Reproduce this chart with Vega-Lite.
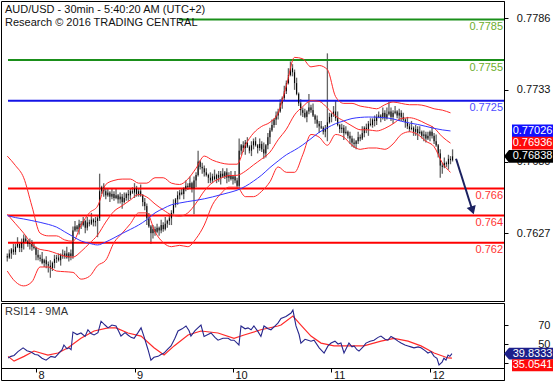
{
"$schema":"https://vega.github.io/schema/vega-lite/v6.json",
"padding":0,
"autosize":{"type":"pad"},
"background":"white",
"spacing":0,
"config":{"view":{"stroke":"#000000","strokeWidth":1},"font":"Liberation Sans","axis":{"labelFont":"Liberation Sans","labelFontSize":11,"labelColor":"#111111","domainColor":"#000000","tickColor":"#000000","grid":false}},
"datasets":{
"bars":[
{"i":-14,"o":0.761,"h":0.7612,"l":0.7606,"c":0.7609},
{"i":-13,"o":0.7609,"h":0.7615,"l":0.7608,"c":0.7612},
{"i":-12,"o":0.7612,"h":0.7616,"l":0.7608,"c":0.7615},
{"i":-11,"o":0.7615,"h":0.7619,"l":0.7611,"c":0.7613},
{"i":-10,"o":0.7613,"h":0.7619,"l":0.7611,"c":0.7617},
{"i":-9,"o":0.7617,"h":0.7624,"l":0.7616,"c":0.7619},
{"i":-8,"o":0.7619,"h":0.762,"l":0.7613,"c":0.7616},
{"i":-7,"o":0.7616,"h":0.7623,"l":0.7613,"c":0.762},
{"i":-6,"o":0.762,"h":0.7626,"l":0.7615,"c":0.7623},
{"i":-5,"o":0.7623,"h":0.7625,"l":0.762,"c":0.7621},
{"i":-4,"o":0.7621,"h":0.7622,"l":0.7617,"c":0.7619},
{"i":-3,"o":0.7619,"h":0.7623,"l":0.7615,"c":0.762},
{"i":-2,"o":0.762,"h":0.7622,"l":0.7614,"c":0.7617},
{"i":-1,"o":0.7617,"h":0.762,"l":0.7615,"c":0.7616},
{"i":0,"o":0.7616,"h":0.7617,"l":0.7607,"c":0.7611},
{"i":1,"o":0.7611,"h":0.7615,"l":0.7607,"c":0.7609},
{"i":2,"o":0.7609,"h":0.7611,"l":0.7606,"c":0.7608},
{"i":3,"o":0.7608,"h":0.7613,"l":0.7604,"c":0.7605},
{"i":4,"o":0.7605,"h":0.7608,"l":0.7602,"c":0.7607},
{"i":5,"o":0.7607,"h":0.761,"l":0.7601,"c":0.7604},
{"i":6,"o":0.7604,"h":0.7606,"l":0.7598,"c":0.7603},
{"i":7,"o":0.7603,"h":0.7607,"l":0.7594,"c":0.7601},
{"i":8,"o":0.7601,"h":0.7606,"l":0.7599,"c":0.7605},
{"i":9,"o":0.7605,"h":0.7611,"l":0.7601,"c":0.7608},
{"i":10,"o":0.7608,"h":0.7611,"l":0.7605,"c":0.7609},
{"i":11,"o":0.7609,"h":0.7612,"l":0.7606,"c":0.7607},
{"i":12,"o":0.7607,"h":0.7612,"l":0.7603,"c":0.7611},
{"i":13,"o":0.7611,"h":0.7615,"l":0.7608,"c":0.761},
{"i":14,"o":0.761,"h":0.7614,"l":0.7608,"c":0.7612},
{"i":15,"o":0.7612,"h":0.7617,"l":0.7608,"c":0.7609},
{"i":16,"o":0.7609,"h":0.7613,"l":0.7606,"c":0.7612},
{"i":17,"o":0.7612,"h":0.7615,"l":0.7607,"c":0.761},
{"i":18,"o":0.761,"h":0.7632,"l":0.7608,"c":0.7629},
{"i":19,"o":0.7629,"h":0.7636,"l":0.7628,"c":0.7632},
{"i":20,"o":0.7632,"h":0.7633,"l":0.7628,"c":0.763},
{"i":21,"o":0.763,"h":0.7637,"l":0.7626,"c":0.7634},
{"i":22,"o":0.7634,"h":0.7636,"l":0.763,"c":0.7633},
{"i":23,"o":0.7633,"h":0.7639,"l":0.7632,"c":0.7636},
{"i":24,"o":0.7636,"h":0.7637,"l":0.7627,"c":0.7631},
{"i":25,"o":0.7631,"h":0.7639,"l":0.7629,"c":0.7635},
{"i":26,"o":0.7635,"h":0.7637,"l":0.7632,"c":0.7634},
{"i":27,"o":0.7634,"h":0.7642,"l":0.7633,"c":0.7637},
{"i":28,"o":0.7637,"h":0.7638,"l":0.7632,"c":0.7635},
{"i":29,"o":0.7635,"h":0.7639,"l":0.7632,"c":0.7636},
{"i":30,"o":0.7636,"h":0.764,"l":0.7624,"c":0.7638},
{"i":31,"o":0.7638,"h":0.7671,"l":0.7636,"c":0.7658},
{"i":32,"o":0.7658,"h":0.7662,"l":0.7656,"c":0.7661},
{"i":33,"o":0.7661,"h":0.7664,"l":0.7654,"c":0.7658},
{"i":34,"o":0.7658,"h":0.766,"l":0.7652,"c":0.7655},
{"i":35,"o":0.7655,"h":0.766,"l":0.7654,"c":0.7657},
{"i":36,"o":0.7657,"h":0.7658,"l":0.765,"c":0.7654},
{"i":37,"o":0.7654,"h":0.766,"l":0.7652,"c":0.7656},
{"i":38,"o":0.7656,"h":0.7658,"l":0.7651,"c":0.7653},
{"i":39,"o":0.7653,"h":0.766,"l":0.7652,"c":0.7655},
{"i":40,"o":0.7655,"h":0.7656,"l":0.7649,"c":0.7652},
{"i":41,"o":0.7652,"h":0.7657,"l":0.7649,"c":0.7654},
{"i":42,"o":0.7654,"h":0.7656,"l":0.7645,"c":0.765},
{"i":43,"o":0.765,"h":0.7657,"l":0.7649,"c":0.7653},
{"i":44,"o":0.7653,"h":0.7657,"l":0.7651,"c":0.7656},
{"i":45,"o":0.7656,"h":0.7659,"l":0.7651,"c":0.7655},
{"i":46,"o":0.7655,"h":0.766,"l":0.7652,"c":0.7658},
{"i":47,"o":0.7658,"h":0.7661,"l":0.7656,"c":0.7657},
{"i":48,"o":0.7657,"h":0.7664,"l":0.7653,"c":0.766},
{"i":49,"o":0.766,"h":0.7662,"l":0.7654,"c":0.7656},
{"i":50,"o":0.7656,"h":0.766,"l":0.7654,"c":0.7658},
{"i":51,"o":0.7658,"h":0.7663,"l":0.7654,"c":0.7655},
{"i":52,"o":0.7655,"h":0.7656,"l":0.7647,"c":0.765},
{"i":53,"o":0.765,"h":0.7653,"l":0.7644,"c":0.7647},
{"i":54,"o":0.7647,"h":0.7649,"l":0.7633,"c":0.7638},
{"i":55,"o":0.7638,"h":0.7642,"l":0.7631,"c":0.7632},
{"i":56,"o":0.7632,"h":0.7633,"l":0.7619,"c":0.7627},
{"i":57,"o":0.7627,"h":0.7633,"l":0.7623,"c":0.763},
{"i":58,"o":0.763,"h":0.7632,"l":0.7625,"c":0.7628},
{"i":59,"o":0.7628,"h":0.7634,"l":0.7627,"c":0.7631},
{"i":60,"o":0.7631,"h":0.7632,"l":0.7625,"c":0.7629},
{"i":61,"o":0.7629,"h":0.7637,"l":0.7627,"c":0.7633},
{"i":62,"o":0.7633,"h":0.7635,"l":0.7628,"c":0.763},
{"i":63,"o":0.763,"h":0.7639,"l":0.7629,"c":0.7634},
{"i":64,"o":0.7634,"h":0.7637,"l":0.7631,"c":0.7636},
{"i":65,"o":0.7636,"h":0.7641,"l":0.7633,"c":0.7638},
{"i":66,"o":0.7638,"h":0.7644,"l":0.7633,"c":0.7642},
{"i":67,"o":0.7642,"h":0.7652,"l":0.7641,"c":0.7648},
{"i":68,"o":0.7648,"h":0.7653,"l":0.7646,"c":0.7652},
{"i":69,"o":0.7652,"h":0.7658,"l":0.7648,"c":0.7655},
{"i":70,"o":0.7655,"h":0.7659,"l":0.7652,"c":0.7657},
{"i":71,"o":0.7657,"h":0.766,"l":0.7655,"c":0.7656},
{"i":72,"o":0.7656,"h":0.7661,"l":0.7652,"c":0.766},
{"i":73,"o":0.766,"h":0.7666,"l":0.7658,"c":0.7662},
{"i":74,"o":0.7662,"h":0.7664,"l":0.7659,"c":0.7661},
{"i":75,"o":0.7661,"h":0.7669,"l":0.766,"c":0.7664},
{"i":76,"o":0.7664,"h":0.7665,"l":0.7657,"c":0.766},
{"i":77,"o":0.766,"h":0.7669,"l":0.7641,"c":0.7666},
{"i":78,"o":0.7666,"h":0.7672,"l":0.7661,"c":0.767},
{"i":79,"o":0.767,"h":0.7688,"l":0.7669,"c":0.768},
{"i":80,"o":0.768,"h":0.7681,"l":0.7674,"c":0.7676},
{"i":81,"o":0.7676,"h":0.7679,"l":0.7671,"c":0.7675},
{"i":82,"o":0.7675,"h":0.7677,"l":0.7669,"c":0.7672},
{"i":83,"o":0.7672,"h":0.7675,"l":0.7669,"c":0.767},
{"i":84,"o":0.767,"h":0.7671,"l":0.7664,"c":0.7668},
{"i":85,"o":0.7668,"h":0.7672,"l":0.7664,"c":0.7666},
{"i":86,"o":0.7666,"h":0.7671,"l":0.7664,"c":0.7669},
{"i":87,"o":0.7669,"h":0.7674,"l":0.7666,"c":0.7667},
{"i":88,"o":0.7667,"h":0.7671,"l":0.7664,"c":0.767},
{"i":89,"o":0.767,"h":0.7673,"l":0.7665,"c":0.7668},
{"i":90,"o":0.7668,"h":0.7673,"l":0.7663,"c":0.7671},
{"i":91,"o":0.7671,"h":0.7675,"l":0.7668,"c":0.7669},
{"i":92,"o":0.7669,"h":0.7673,"l":0.7667,"c":0.7672},
{"i":93,"o":0.7672,"h":0.7675,"l":0.7664,"c":0.7668},
{"i":94,"o":0.7668,"h":0.7672,"l":0.7665,"c":0.767},
{"i":95,"o":0.767,"h":0.7673,"l":0.7666,"c":0.7667},
{"i":96,"o":0.7667,"h":0.767,"l":0.7663,"c":0.7669},
{"i":97,"o":0.7669,"h":0.7673,"l":0.7664,"c":0.7666},
{"i":98,"o":0.7666,"h":0.7668,"l":0.766,"c":0.7662},
{"i":99,"o":0.7662,"h":0.7697,"l":0.7659,"c":0.7688},
{"i":100,"o":0.7688,"h":0.7693,"l":0.7685,"c":0.7692},
{"i":101,"o":0.7692,"h":0.7695,"l":0.7687,"c":0.769},
{"i":102,"o":0.769,"h":0.7696,"l":0.7685,"c":0.7694},
{"i":103,"o":0.7694,"h":0.7698,"l":0.769,"c":0.7691},
{"i":104,"o":0.7691,"h":0.7692,"l":0.7686,"c":0.7688},
{"i":105,"o":0.7688,"h":0.7695,"l":0.7684,"c":0.7692},
{"i":106,"o":0.7692,"h":0.7697,"l":0.7689,"c":0.7695},
{"i":107,"o":0.7695,"h":0.7698,"l":0.7691,"c":0.7692},
{"i":108,"o":0.7692,"h":0.7693,"l":0.7686,"c":0.769},
{"i":109,"o":0.769,"h":0.7697,"l":0.7688,"c":0.7693},
{"i":110,"o":0.7693,"h":0.7695,"l":0.7687,"c":0.7689},
{"i":111,"o":0.7689,"h":0.7694,"l":0.7682,"c":0.7686},
{"i":112,"o":0.7686,"h":0.7693,"l":0.7683,"c":0.7692},
{"i":113,"o":0.7692,"h":0.7701,"l":0.7689,"c":0.7698},
{"i":114,"o":0.7698,"h":0.7705,"l":0.7693,"c":0.7703},
{"i":115,"o":0.7703,"h":0.7711,"l":0.7702,"c":0.7707},
{"i":116,"o":0.7707,"h":0.7712,"l":0.7705,"c":0.7711},
{"i":117,"o":0.7711,"h":0.7717,"l":0.7707,"c":0.7714},
{"i":118,"o":0.7714,"h":0.7719,"l":0.7711,"c":0.7717},
{"i":119,"o":0.7717,"h":0.7726,"l":0.7716,"c":0.7723},
{"i":120,"o":0.7723,"h":0.7728,"l":0.7719,"c":0.7727},
{"i":121,"o":0.7727,"h":0.7736,"l":0.7725,"c":0.7732},
{"i":122,"o":0.7732,"h":0.774,"l":0.773,"c":0.7738},
{"i":123,"o":0.7738,"h":0.7749,"l":0.7737,"c":0.7744},
{"i":124,"o":0.7744,"h":0.7754,"l":0.7743,"c":0.7749},
{"i":125,"o":0.7749,"h":0.7752,"l":0.7743,"c":0.7746},
{"i":126,"o":0.7746,"h":0.7748,"l":0.7733,"c":0.7738},
{"i":127,"o":0.7738,"h":0.7742,"l":0.7729,"c":0.773},
{"i":128,"o":0.773,"h":0.7731,"l":0.7721,"c":0.7723},
{"i":129,"o":0.7723,"h":0.7726,"l":0.7714,"c":0.7718},
{"i":130,"o":0.7718,"h":0.772,"l":0.7713,"c":0.7716},
{"i":131,"o":0.7716,"h":0.7719,"l":0.7712,"c":0.7713},
{"i":132,"o":0.7713,"h":0.7718,"l":0.7709,"c":0.7717},
{"i":133,"o":0.7717,"h":0.773,"l":0.7715,"c":0.772},
{"i":134,"o":0.772,"h":0.7722,"l":0.7716,"c":0.7718},
{"i":135,"o":0.7718,"h":0.7723,"l":0.7713,"c":0.7714},
{"i":136,"o":0.7714,"h":0.7715,"l":0.7708,"c":0.7711},
{"i":137,"o":0.7711,"h":0.7714,"l":0.7705,"c":0.7708},
{"i":138,"o":0.7708,"h":0.771,"l":0.7701,"c":0.7706},
{"i":139,"o":0.7706,"h":0.771,"l":0.7704,"c":0.7705},
{"i":140,"o":0.7705,"h":0.7706,"l":0.77,"c":0.7702},
{"i":141,"o":0.7702,"h":0.7707,"l":0.7698,"c":0.7704},
{"i":142,"o":0.7704,"h":0.776,"l":0.7695,"c":0.7709},
{"i":143,"o":0.7709,"h":0.7716,"l":0.7708,"c":0.7713},
{"i":144,"o":0.7713,"h":0.7716,"l":0.7709,"c":0.7715},
{"i":145,"o":0.7715,"h":0.7721,"l":0.7713,"c":0.7717},
{"i":146,"o":0.7717,"h":0.7725,"l":0.771,"c":0.7712},
{"i":147,"o":0.7712,"h":0.7717,"l":0.7706,"c":0.7707},
{"i":148,"o":0.7707,"h":0.7708,"l":0.7701,"c":0.7704},
{"i":149,"o":0.7704,"h":0.7708,"l":0.7701,"c":0.7705},
{"i":150,"o":0.7705,"h":0.7707,"l":0.7696,"c":0.7701},
{"i":151,"o":0.7701,"h":0.7706,"l":0.77,"c":0.7702},
{"i":152,"o":0.7702,"h":0.7703,"l":0.7697,"c":0.7699},
{"i":153,"o":0.7699,"h":0.7702,"l":0.7693,"c":0.7697},
{"i":154,"o":0.7697,"h":0.7699,"l":0.7691,"c":0.7694},
{"i":155,"o":0.7694,"h":0.7697,"l":0.769,"c":0.7693},
{"i":156,"o":0.7693,"h":0.7696,"l":0.7689,"c":0.7695},
{"i":157,"o":0.7695,"h":0.7702,"l":0.7693,"c":0.7698},
{"i":158,"o":0.7698,"h":0.77,"l":0.7695,"c":0.7697},
{"i":159,"o":0.7697,"h":0.7706,"l":0.7696,"c":0.7701},
{"i":160,"o":0.7701,"h":0.7706,"l":0.7698,"c":0.7705},
{"i":161,"o":0.7705,"h":0.7708,"l":0.7701,"c":0.7704},
{"i":162,"o":0.7704,"h":0.771,"l":0.7699,"c":0.7708},
{"i":163,"o":0.7708,"h":0.7712,"l":0.7706,"c":0.7707},
{"i":164,"o":0.7707,"h":0.7712,"l":0.7705,"c":0.7711},
{"i":165,"o":0.7711,"h":0.7714,"l":0.7706,"c":0.771},
{"i":166,"o":0.771,"h":0.7715,"l":0.7707,"c":0.7713},
{"i":167,"o":0.7713,"h":0.7717,"l":0.7712,"c":0.7714},
{"i":168,"o":0.7714,"h":0.7715,"l":0.7709,"c":0.7713},
{"i":169,"o":0.7713,"h":0.772,"l":0.7711,"c":0.7716},
{"i":170,"o":0.7716,"h":0.7718,"l":0.771,"c":0.7712},
{"i":171,"o":0.7712,"h":0.772,"l":0.7711,"c":0.7715},
{"i":172,"o":0.7715,"h":0.7724,"l":0.7714,"c":0.7717},
{"i":173,"o":0.7717,"h":0.772,"l":0.771,"c":0.7713},
{"i":174,"o":0.7713,"h":0.7718,"l":0.7708,"c":0.7716},
{"i":175,"o":0.7716,"h":0.7721,"l":0.7715,"c":0.7717},
{"i":176,"o":0.7717,"h":0.7718,"l":0.7712,"c":0.7714},
{"i":177,"o":0.7714,"h":0.7719,"l":0.771,"c":0.7716},
{"i":178,"o":0.7716,"h":0.7718,"l":0.771,"c":0.7713},
{"i":179,"o":0.7713,"h":0.7716,"l":0.771,"c":0.7711},
{"i":180,"o":0.7711,"h":0.7712,"l":0.7705,"c":0.7709},
{"i":181,"o":0.7709,"h":0.7713,"l":0.7704,"c":0.7706},
{"i":182,"o":0.7706,"h":0.7708,"l":0.7702,"c":0.7704},
{"i":183,"o":0.7704,"h":0.771,"l":0.7703,"c":0.7705},
{"i":184,"o":0.7705,"h":0.7706,"l":0.7699,"c":0.7702},
{"i":185,"o":0.7702,"h":0.7707,"l":0.7699,"c":0.7704},
{"i":186,"o":0.7704,"h":0.7706,"l":0.7696,"c":0.7701},
{"i":187,"o":0.7701,"h":0.7706,"l":0.77,"c":0.7702},
{"i":188,"o":0.7702,"h":0.7703,"l":0.7697,"c":0.7699},
{"i":189,"o":0.7699,"h":0.7703,"l":0.7695,"c":0.77},
{"i":190,"o":0.77,"h":0.7702,"l":0.7694,"c":0.7697},
{"i":191,"o":0.7697,"h":0.7702,"l":0.7696,"c":0.7699},
{"i":192,"o":0.7699,"h":0.7703,"l":0.7695,"c":0.7702},
{"i":193,"o":0.7702,"h":0.7706,"l":0.7697,"c":0.7699},
{"i":194,"o":0.7699,"h":0.7701,"l":0.7693,"c":0.7695},
{"i":195,"o":0.7695,"h":0.77,"l":0.7691,"c":0.7692},
{"i":196,"o":0.7692,"h":0.7693,"l":0.7683,"c":0.7686},
{"i":197,"o":0.7686,"h":0.7689,"l":0.7668,"c":0.7677},
{"i":198,"o":0.7677,"h":0.7679,"l":0.7671,"c":0.7676},
{"i":199,"o":0.7676,"h":0.7683,"l":0.7675,"c":0.7679},
{"i":200,"o":0.7679,"h":0.768,"l":0.7676,"c":0.7678},
{"i":201,"o":0.7678,"h":0.7685,"l":0.7674,"c":0.7682},
{"i":202,"o":0.7682,"h":0.7684,"l":0.7678,"c":0.7681},
{"i":203,"o":0.7681,"h":0.7689,"l":0.768,"c":0.76838}
],
"ind":[
{"i":-14,"u":0.7684,"m":0.7641,"lo":0.7599,"ma":0.764},
{"i":-10,"u":0.7677,"m":0.7634,"lo":0.7591,"ma":0.76385},
{"i":-6,"u":0.7668,"m":0.7627,"lo":0.7588,"ma":0.76375},
{"i":-2,"u":0.7647,"m":0.7619,"lo":0.7591,"ma":0.76363},
{"i":2,"u":0.7627,"m":0.7615,"lo":0.7602,"ma":0.7635},
{"i":6,"u":0.7625,"m":0.7614,"lo":0.7602,"ma":0.76335},
{"i":10,"u":0.7625,"m":0.7612,"lo":0.7599,"ma":0.76315},
{"i":14,"u":0.7622,"m":0.761,"lo":0.75985,"ma":0.7628},
{"i":18,"u":0.7621,"m":0.76093,"lo":0.7598,"ma":0.76245},
{"i":22,"u":0.7633,"m":0.76135,"lo":0.7593,"ma":0.76212},
{"i":26,"u":0.7642,"m":0.76194,"lo":0.7595,"ma":0.76195},
{"i":30,"u":0.7647,"m":0.76256,"lo":0.7603,"ma":0.76183},
{"i":34,"u":0.7663,"m":0.76352,"lo":0.7607,"ma":0.76205},
{"i":38,"u":0.7666,"m":0.76432,"lo":0.762,"ma":0.76235},
{"i":42,"u":0.7667,"m":0.76473,"lo":0.7627,"ma":0.76268},
{"i":46,"u":0.7667,"m":0.76516,"lo":0.7634,"ma":0.76298},
{"i":50,"u":0.7664,"m":0.76556,"lo":0.7642,"ma":0.7633},
{"i":54,"u":0.7664,"m":0.76537,"lo":0.7642,"ma":0.7637},
{"i":58,"u":0.7668,"m":0.76486,"lo":0.7628,"ma":0.7642},
{"i":62,"u":0.7668,"m":0.76442,"lo":0.762,"ma":0.76452},
{"i":66,"u":0.7664,"m":0.76406,"lo":0.7617,"ma":0.7648},
{"i":70,"u":0.7663,"m":0.76396,"lo":0.7618,"ma":0.76493},
{"i":74,"u":0.7667,"m":0.7642,"lo":0.7617,"ma":0.76504},
{"i":78,"u":0.7675,"m":0.76492,"lo":0.7623,"ma":0.76513},
{"i":82,"u":0.7684,"m":0.76582,"lo":0.7633,"ma":0.76524},
{"i":86,"u":0.7681,"m":0.76644,"lo":0.7648,"ma":0.76538},
{"i":90,"u":0.7679,"m":0.76676,"lo":0.7656,"ma":0.76554},
{"i":94,"u":0.7678,"m":0.76696,"lo":0.7661,"ma":0.7657},
{"i":98,"u":0.7678,"m":0.76698,"lo":0.7661,"ma":0.76588},
{"i":102,"u":0.7692,"m":0.76728,"lo":0.7654,"ma":0.76616},
{"i":106,"u":0.7701,"m":0.76775,"lo":0.7654,"ma":0.76655},
{"i":110,"u":0.7706,"m":0.76819,"lo":0.7658,"ma":0.767},
{"i":114,"u":0.7709,"m":0.76869,"lo":0.7665,"ma":0.76755},
{"i":118,"u":0.7716,"m":0.76961,"lo":0.7676,"ma":0.76804},
{"i":122,"u":0.7736,"m":0.77039,"lo":0.7672,"ma":0.7685},
{"i":126,"u":0.7757,"m":0.77145,"lo":0.7672,"ma":0.76884},
{"i":130,"u":0.7756,"m":0.77206,"lo":0.7685,"ma":0.76923},
{"i":134,"u":0.775,"m":0.7725,"lo":0.77,"ma":0.76969},
{"i":138,"u":0.7751,"m":0.77245,"lo":0.7698,"ma":0.77016},
{"i":142,"u":0.7748,"m":0.77196,"lo":0.7692,"ma":0.7705},
{"i":146,"u":0.7728,"m":0.77136,"lo":0.77,"ma":0.7708},
{"i":150,"u":0.7723,"m":0.771,"lo":0.7698,"ma":0.771},
{"i":154,"u":0.7723,"m":0.77063,"lo":0.7692,"ma":0.77118},
{"i":158,"u":0.7721,"m":0.77035,"lo":0.7689,"ma":0.77126},
{"i":162,"u":0.772,"m":0.77034,"lo":0.769,"ma":0.77129},
{"i":166,"u":0.7719,"m":0.77026,"lo":0.769,"ma":0.77128},
{"i":170,"u":0.7722,"m":0.77045,"lo":0.7689,"ma":0.77124},
{"i":174,"u":0.7724,"m":0.77079,"lo":0.7693,"ma":0.77115},
{"i":178,"u":0.7723,"m":0.77118,"lo":0.77,"ma":0.77098},
{"i":182,"u":0.7722,"m":0.77124,"lo":0.7702,"ma":0.77085},
{"i":186,"u":0.7722,"m":0.77109,"lo":0.77,"ma":0.77074},
{"i":190,"u":0.7721,"m":0.7708,"lo":0.7695,"ma":0.7706},
{"i":194,"u":0.7719,"m":0.77048,"lo":0.7691,"ma":0.77045},
{"i":198,"u":0.7718,"m":0.76983,"lo":0.7679,"ma":0.77034},
{"i":202,"u":0.7716,"m":0.76936,"lo":0.7672,"ma":0.77026}
],
"levels":[
{"lv":0.7785,"lab":"0.7785","kind":"resistance","i0":69.7},
{"lv":0.7755,"lab":"0.7755","kind":"resistance","i0":-13.65},
{"lv":0.7725,"lab":"0.7725","kind":"pivot","i0":-13.65},
{"lv":0.766,"lab":"0.766","kind":"support","i0":-13.65},
{"lv":0.764,"lab":"0.764","kind":"support","i0":-13.65},
{"lv":0.762,"lab":"0.762","kind":"support","i0":-13.65}
],
"boxes":[
{"lab":"0.77026","v":0.77026,"k":"ma"},
{"lab":"0.76936","v":0.76936,"k":"mid"},
{"lab":"0.76838","v":0.76838,"k":"price"}
],
"arrow":[{"i0":204.7,"p0":0.7682,"i1":212.7,"p1":0.76438}],
"rsi":[
{"i":-13.6,"r":35.3},{"i":-12.2,"r":37},{"i":-10.7,"r":38},{"i":-8.8,"r":42},{"i":-6.3,"r":46},{"i":-4.4,"r":43},{"i":-2.4,"r":41.5},{"i":-0.5,"r":39},{"i":1,"r":38.4},{"i":2.9,"r":35},{"i":4.9,"r":33},{"i":7.3,"r":37},{"i":9.3,"r":36},{"i":11.2,"r":40.5},{"i":12.7,"r":44},{"i":13.6,"r":49},{"i":15.1,"r":45},{"i":16.1,"r":46},{"i":17.1,"r":44},{"i":18,"r":62.6},{"i":20,"r":60},{"i":21.9,"r":61.6},{"i":23.9,"r":58},{"i":25.3,"r":65},{"i":26.8,"r":61},{"i":28.3,"r":59.6},{"i":30.2,"r":62},{"i":31.7,"r":74},{"i":33.6,"r":70},{"i":35.1,"r":67},{"i":37,"r":70},{"i":39,"r":69},{"i":40.4,"r":63},{"i":41.4,"r":58.4},{"i":43.4,"r":62},{"i":44.8,"r":59.5},{"i":46.3,"r":57},{"i":47.8,"r":56},{"i":49.7,"r":62},{"i":51.2,"r":67},{"i":52.6,"r":58},{"i":54.6,"r":44},{"i":56,"r":33},{"i":57.5,"r":36},{"i":59.5,"r":37},{"i":60.9,"r":39},{"i":62.4,"r":40.5},{"i":64.3,"r":45},{"i":65.8,"r":48},{"i":67.7,"r":56},{"i":69.2,"r":63.7},{"i":71.2,"r":66},{"i":73.1,"r":69},{"i":74.6,"r":64},{"i":75.5,"r":58.4},{"i":77.5,"r":64},{"i":78.9,"r":67},{"i":80.4,"r":70},{"i":81.9,"r":58},{"i":83.8,"r":60},{"i":85.3,"r":61.6},{"i":87.2,"r":57},{"i":88.7,"r":54},{"i":91.1,"r":56},{"i":93.6,"r":56},{"i":95,"r":54},{"i":96.5,"r":54},{"i":98,"r":51},{"i":98.9,"r":49},{"i":99.9,"r":69},{"i":101.9,"r":66},{"i":103.3,"r":67},{"i":104.8,"r":65},{"i":106.2,"r":69},{"i":108.2,"r":63},{"i":109.6,"r":58},{"i":111.1,"r":69},{"i":113.1,"r":66},{"i":114.5,"r":65},{"i":116.5,"r":69},{"i":117.9,"r":72},{"i":119.4,"r":77},{"i":121.8,"r":79},{"i":124.3,"r":82.6},{"i":125.2,"r":85.8},{"i":126.7,"r":69},{"i":128.2,"r":60},{"i":129.1,"r":51},{"i":131.1,"r":55},{"i":132.6,"r":54},{"i":134,"r":53},{"i":135.5,"r":54},{"i":138,"r":46},{"i":140.4,"r":40.5},{"i":142.3,"r":48},{"i":143.8,"r":51},{"i":145.7,"r":53},{"i":147.2,"r":50},{"i":148.6,"r":51},{"i":150.1,"r":40.5},{"i":151.6,"r":47},{"i":152.5,"r":51},{"i":154,"r":47},{"i":155,"r":48},{"i":156.4,"r":44},{"i":157.4,"r":42.6},{"i":159.4,"r":47},{"i":160.8,"r":51},{"i":162.8,"r":53},{"i":164.7,"r":54},{"i":166.7,"r":57},{"i":168.1,"r":58.4},{"i":170.1,"r":55},{"i":171.5,"r":54},{"i":173,"r":58},{"i":174.5,"r":56},{"i":176.4,"r":53},{"i":177.9,"r":51},{"i":179.8,"r":49},{"i":181.3,"r":48},{"i":182.7,"r":47},{"i":184.2,"r":46},{"i":186.2,"r":47},{"i":187.6,"r":46},{"i":189.6,"r":43},{"i":191,"r":40.5},{"i":192.5,"r":42},{"i":194,"r":37},{"i":195.4,"r":35},{"i":196.4,"r":28},{"i":197.9,"r":31},{"i":198.8,"r":35},{"i":199.8,"r":33},{"i":200.8,"r":38.4},{"i":201.7,"r":37},{"i":202.7,"r":39.83}
],
"rsima":[
{"i":-13.6,"m":37},{"i":-10.7,"m":32},{"i":-5.8,"m":37},{"i":-1,"m":42.6},{"i":5.8,"m":38.4},{"i":10.7,"m":40.5},{"i":15.6,"m":46},{"i":21.9,"m":56},{"i":28.3,"m":63.7},{"i":35.1,"m":67},{"i":39,"m":67},{"i":44.8,"m":61.6},{"i":51.2,"m":58.4},{"i":57.5,"m":46},{"i":62.4,"m":38.4},{"i":67.3,"m":48},{"i":74.1,"m":59.5},{"i":80.4,"m":63.7},{"i":88.7,"m":61.6},{"i":96.5,"m":56},{"i":101.4,"m":59.5},{"i":109.6,"m":65},{"i":117.9,"m":69},{"i":119.4,"m":70},{"i":125.2,"m":79.5},{"i":129.1,"m":70},{"i":134,"m":58.4},{"i":138.9,"m":51},{"i":145.2,"m":48},{"i":152,"m":48},{"i":159.8,"m":48},{"i":168.1,"m":53},{"i":174.5,"m":56},{"i":181.3,"m":53},{"i":187.6,"m":48},{"i":194,"m":40.5},{"i":200.8,"m":35.3},{"i":202.7,"m":35.05}
],
"rsiboxes":[
{"lab":"39.8333","v":39.8333,"k":"rsi"},
{"lab":"35.0541","v":35.0541,"k":"ma"}
]
},
"vconcat":[
{
"width":503,"height":300,
"title":{"text":"AUD/USD - 30min - 5:40:20 AM (UTC+2)","subtitle":"Research © 2016 TRADING CENTRAL","anchor":"start","frame":"group","offset":-27,"dx":4,"fontSize":11,"subtitleFontSize":11,"font":"Liberation Sans","subtitleFont":"Liberation Sans","fontWeight":"normal","subtitleFontWeight":"normal","color":"#111111","subtitleColor":"#111111","subtitlePadding":2},
"layer":[
{"data":{"name":"bars"},"mark":{"type":"rule","color":"#646464","strokeWidth":1.3},
"encoding":{
"x":{"field":"i","type":"quantitative","scale":{"domain":[-17.06,228.07],"nice":false,"zero":false},"axis":null},
"y":{"field":"l","type":"quantitative","scale":{"domain":[0.757683,0.779872],"nice":false,"zero":false},"axis":{"orient":"right","values":[0.7786,0.7733,0.768,0.7627],"format":".4f","tickSize":4,"labelAlign":"right","labelPadding":42,"labelBaseline":"middle","title":null,"domain":true,"zindex":0}},
"y2":{"field":"h"}}},
{"data":{"name":"levels"},"transform":[{"filter":"datum.kind == 'resistance'"}],"mark":{"type":"rule","strokeWidth":2,"color":"#1a8f1a"},
"encoding":{"x":{"field":"i0","type":"quantitative","axis":null},"x2":{"datum":228.07},"y":{"field":"lv","type":"quantitative","axis":{"orient":"right","values":[0.7786,0.7733,0.768,0.7627],"format":".4f","tickSize":4,"labelAlign":"right","labelPadding":42,"labelBaseline":"middle","title":null,"domain":true,"zindex":0}}}},
{"data":{"name":"levels"},"transform":[{"filter":"datum.kind == 'pivot'"}],"mark":{"type":"rule","strokeWidth":2,"color":"#1414e6"},
"encoding":{"x":{"field":"i0","type":"quantitative","axis":null},"x2":{"datum":228.07},"y":{"field":"lv","type":"quantitative","axis":{"orient":"right","values":[0.7786,0.7733,0.768,0.7627],"format":".4f","tickSize":4,"labelAlign":"right","labelPadding":42,"labelBaseline":"middle","title":null,"domain":true,"zindex":0}}}},
{"data":{"name":"levels"},"transform":[{"filter":"datum.kind == 'support'"}],"mark":{"type":"rule","strokeWidth":2,"color":"#ff0000"},
"encoding":{"x":{"field":"i0","type":"quantitative","axis":null},"x2":{"datum":228.07},"y":{"field":"lv","type":"quantitative","axis":{"orient":"right","values":[0.7786,0.7733,0.768,0.7627],"format":".4f","tickSize":4,"labelAlign":"right","labelPadding":42,"labelBaseline":"middle","title":null,"domain":true,"zindex":0}}}},
{"data":{"name":"bars"},"mark":{"type":"rule","color":"#000000","strokeWidth":1},
"encoding":{"x":{"field":"i","type":"quantitative","axis":null},"y":{"field":"o","type":"quantitative","axis":{"orient":"right","values":[0.7786,0.7733,0.768,0.7627],"format":".4f","tickSize":4,"labelAlign":"right","labelPadding":42,"labelBaseline":"middle","title":null,"domain":true,"zindex":0}},"y2":{"field":"c"}}},
{"data":{"name":"ind"},"mark":{"type":"line","color":"#ff2a2a","strokeWidth":1,"interpolate":"monotone"},
"encoding":{"x":{"field":"i","type":"quantitative","axis":null},"y":{"field":"u","type":"quantitative","axis":{"orient":"right","values":[0.7786,0.7733,0.768,0.7627],"format":".4f","tickSize":4,"labelAlign":"right","labelPadding":42,"labelBaseline":"middle","title":null,"domain":true,"zindex":0}}}},
{"data":{"name":"ind"},"mark":{"type":"line","color":"#ff2a2a","strokeWidth":1,"interpolate":"monotone"},
"encoding":{"x":{"field":"i","type":"quantitative","axis":null},"y":{"field":"m","type":"quantitative","axis":{"orient":"right","values":[0.7786,0.7733,0.768,0.7627],"format":".4f","tickSize":4,"labelAlign":"right","labelPadding":42,"labelBaseline":"middle","title":null,"domain":true,"zindex":0}}}},
{"data":{"name":"ind"},"mark":{"type":"line","color":"#ff2a2a","strokeWidth":1,"interpolate":"monotone"},
"encoding":{"x":{"field":"i","type":"quantitative","axis":null},"y":{"field":"lo","type":"quantitative","axis":{"orient":"right","values":[0.7786,0.7733,0.768,0.7627],"format":".4f","tickSize":4,"labelAlign":"right","labelPadding":42,"labelBaseline":"middle","title":null,"domain":true,"zindex":0}}}},
{"data":{"name":"ind"},"mark":{"type":"line","color":"#3535ff","strokeWidth":1,"interpolate":"monotone"},
"encoding":{"x":{"field":"i","type":"quantitative","axis":null},"y":{"field":"ma","type":"quantitative","axis":{"orient":"right","values":[0.7786,0.7733,0.768,0.7627],"format":".4f","tickSize":4,"labelAlign":"right","labelPadding":42,"labelBaseline":"middle","title":null,"domain":true,"zindex":0}}}},
{"data":{"name":"levels"},"transform":[{"filter":"datum.kind == 'resistance'"}],"mark":{"type":"text","align":"right","baseline":"middle","dy":7.5,"fontSize":11,"color":"#6cae2c"},
"encoding":{"x":{"datum":227.6,"type":"quantitative","axis":null},"y":{"field":"lv","type":"quantitative","axis":{"orient":"right","values":[0.7786,0.7733,0.768,0.7627],"format":".4f","tickSize":4,"labelAlign":"right","labelPadding":42,"labelBaseline":"middle","title":null,"domain":true,"zindex":0}},"text":{"field":"lab","type":"nominal"}}},
{"data":{"name":"levels"},"transform":[{"filter":"datum.kind == 'pivot'"}],"mark":{"type":"text","align":"right","baseline":"middle","dy":7.5,"fontSize":11,"color":"#4d4dff"},
"encoding":{"x":{"datum":227.6,"type":"quantitative","axis":null},"y":{"field":"lv","type":"quantitative","axis":{"orient":"right","values":[0.7786,0.7733,0.768,0.7627],"format":".4f","tickSize":4,"labelAlign":"right","labelPadding":42,"labelBaseline":"middle","title":null,"domain":true,"zindex":0}},"text":{"field":"lab","type":"nominal"}}},
{"data":{"name":"levels"},"transform":[{"filter":"datum.kind == 'support'"}],"mark":{"type":"text","align":"right","baseline":"middle","dy":7.5,"fontSize":11,"color":"#ff3333"},
"encoding":{"x":{"datum":227.6,"type":"quantitative","axis":null},"y":{"field":"lv","type":"quantitative","axis":{"orient":"right","values":[0.7786,0.7733,0.768,0.7627],"format":".4f","tickSize":4,"labelAlign":"right","labelPadding":42,"labelBaseline":"middle","title":null,"domain":true,"zindex":0}},"text":{"field":"lab","type":"nominal"}}},
{"data":{"name":"arrow"},"mark":{"type":"rule","color":"#1b2160","strokeWidth":2},
"encoding":{"x":{"field":"i0","type":"quantitative","axis":null},"y":{"field":"p0","type":"quantitative","axis":{"orient":"right","values":[0.7786,0.7733,0.768,0.7627],"format":".4f","tickSize":4,"labelAlign":"right","labelPadding":42,"labelBaseline":"middle","title":null,"domain":true,"zindex":0}},"x2":{"field":"i1"},"y2":{"field":"p1"}}},
{"data":{"name":"arrow"},"mark":{"type":"point","shape":"triangle-down","filled":true,"color":"#1b2160","opacity":1,"size":90,"angle":342},
"encoding":{"x":{"field":"i1","type":"quantitative","axis":null},"y":{"field":"p1","type":"quantitative","axis":{"orient":"right","values":[0.7786,0.7733,0.768,0.7627],"format":".4f","tickSize":4,"labelAlign":"right","labelPadding":42,"labelBaseline":"middle","title":null,"domain":true,"zindex":0}}}},
{"data":{"name":"boxes"},"transform":[{"filter":"datum.k == 'ma'"}],"mark":{"type":"point","filled":true,"opacity":1,"size":1681,"strokeWidth":0,"color":"#1010ff","shape":"M-1,-0.317L1,-0.317L1,0.317L-1,0.317Z"},
"encoding":{"x":{"datum":241.96,"type":"quantitative","axis":null},"y":{"field":"v","type":"quantitative","axis":{"orient":"right","values":[0.7786,0.7733,0.768,0.7627],"format":".4f","tickSize":4,"labelAlign":"right","labelPadding":42,"labelBaseline":"middle","title":null,"domain":true,"zindex":0}}}},
{"data":{"name":"boxes"},"transform":[{"filter":"datum.k == 'mid'"}],"mark":{"type":"point","filled":true,"opacity":1,"size":1681,"strokeWidth":0,"color":"#ff0a0a","shape":"M-1,-0.317L1,-0.317L1,0.317L-1,0.317Z"},
"encoding":{"x":{"datum":241.96,"type":"quantitative","axis":null},"y":{"field":"v","type":"quantitative","axis":{"orient":"right","values":[0.7786,0.7733,0.768,0.7627],"format":".4f","tickSize":4,"labelAlign":"right","labelPadding":42,"labelBaseline":"middle","title":null,"domain":true,"zindex":0}}}},
{"data":{"name":"boxes"},"transform":[{"filter":"datum.k == 'price'"}],"mark":{"type":"point","filled":true,"opacity":1,"size":1681,"strokeWidth":0,"color":"#000000","shape":"M-1.39,0L-1.146,-0.317L1,-0.317L1,0.317L-1.146,0.317Z"},
"encoding":{"x":{"datum":241.96,"type":"quantitative","axis":null},"y":{"field":"v","type":"quantitative","axis":{"orient":"right","values":[0.7786,0.7733,0.768,0.7627],"format":".4f","tickSize":4,"labelAlign":"right","labelPadding":42,"labelBaseline":"middle","title":null,"domain":true,"zindex":0}}}},
{"data":{"name":"boxes"},"mark":{"type":"text","color":"#ffffff","fontSize":11,"align":"center","baseline":"middle"},
"encoding":{"x":{"datum":241.96,"type":"quantitative","axis":null},"y":{"field":"v","type":"quantitative","axis":{"orient":"right","values":[0.7786,0.7733,0.768,0.7627],"format":".4f","tickSize":4,"labelAlign":"right","labelPadding":42,"labelBaseline":"middle","title":null,"domain":true,"zindex":0}},"text":{"field":"lab","type":"nominal"}}}
]
},
{
"width":503,"height":77,
"title":{"text":"RSI14 - 9MA","anchor":"start","frame":"group","offset":-14,"dx":4,"fontSize":11,"font":"Liberation Sans","fontWeight":"normal","color":"#333333"},
"layer":[
{"data":{"name":"rsima"},"mark":{"type":"line","color":"#ff2a2a","strokeWidth":1.2},
"encoding":{
"x":{"field":"i","type":"quantitative","scale":{"domain":[-17.06,228.07],"nice":false,"zero":false},"axis":{"orient":"bottom","offset":-12,"values":[0,48,96,144,192],"labelExpr":"format(8 + datum.value / 48, 'd')","tickSize":4,"labelAlign":"left","labelOffset":2,"labelBaseline":"middle","labelPadding":3,"title":null,"domain":true,"labelFlush":false,"zindex":0}},
"y":{"field":"m","type":"quantitative","scale":{"domain":[12.1,93.2],"nice":false,"zero":false},"axis":{"orient":"right","values":[30,50,70],"tickSize":4,"labelAlign":"right","labelPadding":42,"labelBaseline":"middle","title":null,"domain":true,"zindex":0}}}},
{"data":{"name":"rsi"},"mark":{"type":"line","color":"#26268c","strokeWidth":1.1},
"encoding":{
"x":{"field":"i","type":"quantitative","axis":{"orient":"bottom","offset":-12,"values":[0,48,96,144,192],"labelExpr":"format(8 + datum.value / 48, 'd')","tickSize":4,"labelAlign":"left","labelOffset":2,"labelBaseline":"middle","labelPadding":3,"title":null,"domain":true,"labelFlush":false,"zindex":0}},
"y":{"field":"r","type":"quantitative","axis":{"orient":"right","values":[30,50,70],"tickSize":4,"labelAlign":"right","labelPadding":42,"labelBaseline":"middle","title":null,"domain":true,"zindex":0}}}},
{"data":{"name":"rsiboxes"},"transform":[{"filter":"datum.k == 'rsi'"}],"mark":{"type":"point","filled":true,"opacity":1,"size":1681,"strokeWidth":0,"color":"#1c1f8a","shape":"M-1.39,0L-1.146,-0.29L1,-0.29L1,0.29L-1.146,0.29Z"},
"encoding":{
"x":{"datum":241.96,"type":"quantitative","axis":{"orient":"bottom","offset":-12,"values":[0,48,96,144,192],"labelExpr":"format(8 + datum.value / 48, 'd')","tickSize":4,"labelAlign":"left","labelOffset":2,"labelBaseline":"middle","labelPadding":3,"title":null,"domain":true,"labelFlush":false,"zindex":0}},
"y":{"field":"v","type":"quantitative","axis":{"orient":"right","values":[30,50,70],"tickSize":4,"labelAlign":"right","labelPadding":42,"labelBaseline":"middle","title":null,"domain":true,"zindex":0}}}},
{"data":{"name":"rsiboxes"},"transform":[{"filter":"datum.k == 'ma'"}],"mark":{"type":"point","filled":true,"opacity":1,"size":1681,"strokeWidth":0,"color":"#ff0a0a","yOffset":7,"shape":"M-1,-0.29L1,-0.29L1,0.29L-1,0.29Z"},
"encoding":{
"x":{"datum":241.96,"type":"quantitative","axis":{"orient":"bottom","offset":-12,"values":[0,48,96,144,192],"labelExpr":"format(8 + datum.value / 48, 'd')","tickSize":4,"labelAlign":"left","labelOffset":2,"labelBaseline":"middle","labelPadding":3,"title":null,"domain":true,"labelFlush":false,"zindex":0}},
"y":{"field":"v","type":"quantitative","axis":{"orient":"right","values":[30,50,70],"tickSize":4,"labelAlign":"right","labelPadding":42,"labelBaseline":"middle","title":null,"domain":true,"zindex":0}}}},
{"data":{"name":"rsiboxes"},"transform":[{"filter":"datum.k == 'rsi'"}],"mark":{"type":"text","color":"#ffffff","fontSize":11,"align":"center","baseline":"middle"},
"encoding":{
"x":{"datum":241.96,"type":"quantitative","axis":{"orient":"bottom","offset":-12,"values":[0,48,96,144,192],"labelExpr":"format(8 + datum.value / 48, 'd')","tickSize":4,"labelAlign":"left","labelOffset":2,"labelBaseline":"middle","labelPadding":3,"title":null,"domain":true,"labelFlush":false,"zindex":0}},
"y":{"field":"v","type":"quantitative","axis":{"orient":"right","values":[30,50,70],"tickSize":4,"labelAlign":"right","labelPadding":42,"labelBaseline":"middle","title":null,"domain":true,"zindex":0}},"text":{"field":"lab","type":"nominal"}}},
{"data":{"name":"rsiboxes"},"transform":[{"filter":"datum.k == 'ma'"}],"mark":{"type":"text","color":"#ffffff","fontSize":11,"align":"center","baseline":"middle","yOffset":7},
"encoding":{
"x":{"datum":241.96,"type":"quantitative","axis":{"orient":"bottom","offset":-12,"values":[0,48,96,144,192],"labelExpr":"format(8 + datum.value / 48, 'd')","tickSize":4,"labelAlign":"left","labelOffset":2,"labelBaseline":"middle","labelPadding":3,"title":null,"domain":true,"labelFlush":false,"zindex":0}},
"y":{"field":"v","type":"quantitative","axis":{"orient":"right","values":[30,50,70],"tickSize":4,"labelAlign":"right","labelPadding":42,"labelBaseline":"middle","title":null,"domain":true,"zindex":0}},"text":{"field":"lab","type":"nominal"}}}
]
}
]
}
